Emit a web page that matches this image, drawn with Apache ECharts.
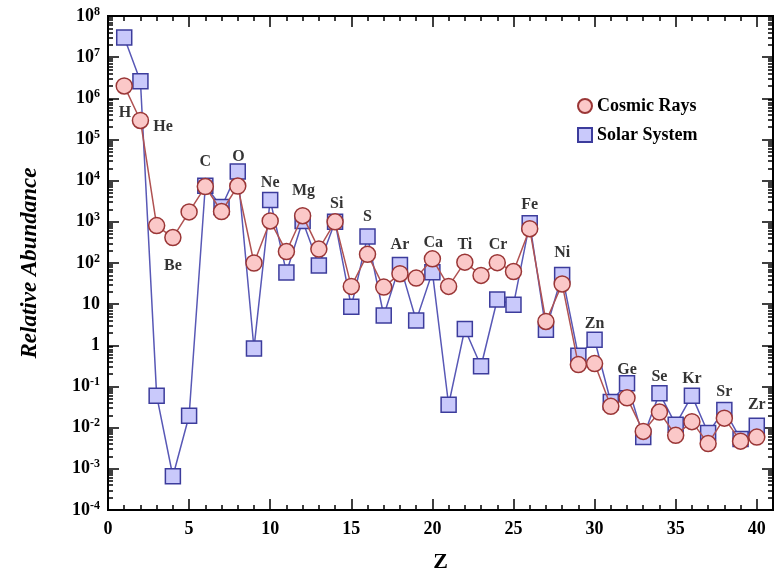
<!DOCTYPE html>
<html>
<head>
<meta charset="utf-8">
<script src="https://cdn.jsdelivr.net/npm/echarts@6/dist/echarts.min.js"></script>
<style>
  html, body { margin: 0; padding: 0; background: #fff; }
  #chart { width: 780px; height: 569px; }
</style>
</head>
<body>
<div id="chart"></div>
<script>
// atomic number Z
const zValues = [1, 2, 3, 4, 5, 6, 7, 8, 9, 10, 11, 12, 13, 14, 15, 16, 17, 18, 19, 20,
  21, 22, 23, 24, 25, 26, 27, 28, 29, 30, 31, 32, 33, 34, 35, 36, 37, 38, 39, 40];

// relative abundance (Si = 1000)
const cosmicRays = [2.0e6, 2.9e5, 810, 415, 1740, 7200, 1780, 7400, 100, 1050,
  190, 1410, 218, 1000, 27, 163, 26, 55, 43, 126,
  27, 105, 50, 102, 62, 680, 3.8, 31, 0.34, 0.36,
  0.033, 0.053, 0.0081, 0.024, 0.0065, 0.014, 0.0041, 0.017, 0.0047, 0.0059];

const solarSystem = [3.0e7, 2.6e6, 0.06, 6.6e-4, 0.0195, 7500, 2300, 1.66e4, 0.84, 3400,
  59, 1050, 87, 1000, 8.7, 440, 5.3, 90, 4.0, 60,
  0.036, 2.5, 0.31, 13, 9.7, 930, 2.4, 51, 0.56, 1.37,
  0.042, 0.12, 0.0059, 0.069, 0.0118, 0.060, 0.0074, 0.027, 0.0053, 0.0112];

// element name annotations
const elementNames = ['H', 'He', 'Be', 'C', 'O', 'Ne', 'Mg', 'Si', 'S', 'Ar', 'Ca',
  'Ti', 'Cr', 'Fe', 'Ni', 'Zn', 'Ge', 'Se', 'Kr', 'Sr', 'Zr'];
const elementZ = [1.05, 3.4, 4.0, 6.0, 8.05, 10.0, 12.05, 14.1, 16.0, 18.0, 20.05,
  22.0, 24.05, 26.0, 28.0, 30.0, 32.0, 34.0, 36.0, 38.0, 40.0];
const elementY = [4.5e5, 2.0e5, 85, 2.9e4, 3.8e4, 8.9e3, 5.6e3, 2.75e3, 1.3e3, 275, 310,
  275, 275, 2.6e3, 178, 3.3, 0.26, 0.17, 0.155, 0.074, 0.036];

// y ticks: one per decade, minor ticks at 2..9 in every decade
const majorY = [1e-4, 1e-3, 1e-2, 1e-1, 1, 10, 1e2, 1e3, 1e4, 1e5, 1e6, 1e7, 1e8];
const minorY = [];
for (let d = -4; d < 8; d++) {
  for (let k = 2; k <= 9; k++) minorY.push(+(k * Math.pow(10, d)).toPrecision(3));
}

const FONT = 'Liberation Serif';
const chart = echarts.init(document.getElementById('chart'));

function powLabel(v) {
  const e = Math.round(Math.log10(v));
  if (e === 0) return '{b|1}';
  if (e === 1) return '{b|10}';
  return '{b|10}{s|' + e + '}';
}

const yRich = {
  b: { fontFamily: FONT, fontWeight: 'bold', fontSize: 18, color: '#000' },
  s: { fontFamily: FONT, fontWeight: 'bold', fontSize: 12, color: '#000', verticalAlign: 'top', padding: [0, 0, 9, 0] }
};

function xAxisDef(pos, interval, len, labels) {
  return {
    type: 'value', position: pos, min: 0, max: 41, interval: interval,
    axisLine: { show: true, onZero: false, lineStyle: { color: '#000', width: 2 } },
    axisTick: { show: true, inside: true, length: len, lineStyle: { color: '#000', width: 1.5 } },
    axisLabel: labels ? {
      show: true, margin: 10, showMaxLabel: false,
      fontFamily: FONT, fontWeight: 'bold', fontSize: 18, color: '#000'
    } : { show: false },
    splitLine: { show: false },
    name: labels ? 'Z' : '', nameLocation: 'middle', nameGap: 41,
    nameTextStyle: { fontFamily: FONT, fontWeight: 'bold', fontSize: 22, color: '#000' }
  };
}

function yAxisDef(pos, major, labels) {
  const ax = {
    type: 'log', logBase: 10, position: pos, min: 1e-4, max: 1e8,
    axisLine: { show: true, onZero: false, lineStyle: { color: '#000', width: 2 } },
    axisTick: {
      show: true, inside: true, length: major ? 11 : 5,
      customValues: major ? majorY : minorY,
      lineStyle: { color: '#000', width: 1.5 }
    },
    axisLabel: labels ? {
      show: true, margin: 8, formatter: powLabel, rich: yRich, customValues: majorY
    } : { show: false },
    splitLine: { show: false },
    name: labels ? 'Relative Abundance' : '', nameLocation: 'middle', nameGap: 66,
    nameTextStyle: { fontFamily: FONT, fontWeight: 'bold', fontStyle: 'italic', fontSize: 23, color: '#000' }
  };
  return ax;
}

const option = {
  backgroundColor: '#fff',
  animation: false,
  grid: { left: 108, top: 16, right: 7, bottom: 59, outerBoundsMode: 'none', containLabel: false },
  legend: {
    orient: 'vertical', left: 572, top: 92, itemWidth: 14, itemHeight: 14, itemGap: 11,
    textStyle: { fontFamily: FONT, fontWeight: 'bold', fontSize: 18, color: '#000' },
    data: [{ name: 'Cosmic Rays', icon: 'circle' }, { name: 'Solar System', icon: 'rect' }]
  },
  xAxis: [
    xAxisDef('bottom', 5, 11, true),
    xAxisDef('bottom', 1, 5, false),
    xAxisDef('top', 5, 11, false),
    xAxisDef('top', 1, 5, false)
  ],
  yAxis: [
    yAxisDef('left', true, true),
    yAxisDef('left', false, false),
    yAxisDef('right', true, false),
    yAxisDef('right', false, false)
  ],
  series: [
    {
      name: 'Solar System', type: 'line', xAxisIndex: 0, yAxisIndex: 0,
      data: zValues.map((z, i) => [z, solarSystem[i]]),
      symbol: 'rect', symbolSize: 15,
      itemStyle: { color: '#c9c9fb', borderColor: '#3c3c9c', borderWidth: 1.5 },
      lineStyle: { color: '#5858b6', width: 1.5 },
      z: 3
    },
    {
      name: 'Cosmic Rays', type: 'line', xAxisIndex: 0, yAxisIndex: 0,
      data: zValues.map((z, i) => [z, cosmicRays[i]]),
      symbol: 'circle', symbolSize: 16,
      itemStyle: { color: '#fbc8c8', borderColor: '#9a3636', borderWidth: 1.5 },
      lineStyle: { color: '#b05252', width: 1.5 },
      z: 4
    },
    {
      name: 'labels', type: 'scatter', xAxisIndex: 0, yAxisIndex: 0, silent: true,
      symbolSize: 0,
      data: elementNames.map((n, i) => ({ name: n, value: [elementZ[i], elementY[i]] })),
      label: {
        show: true, position: 'inside', formatter: '{b}',
        fontFamily: FONT, fontWeight: 'bold', fontSize: 16, color: '#000'
      },
      z: 5
    }
  ]
};

chart.setOption(option);
</script>
</body>
</html>
